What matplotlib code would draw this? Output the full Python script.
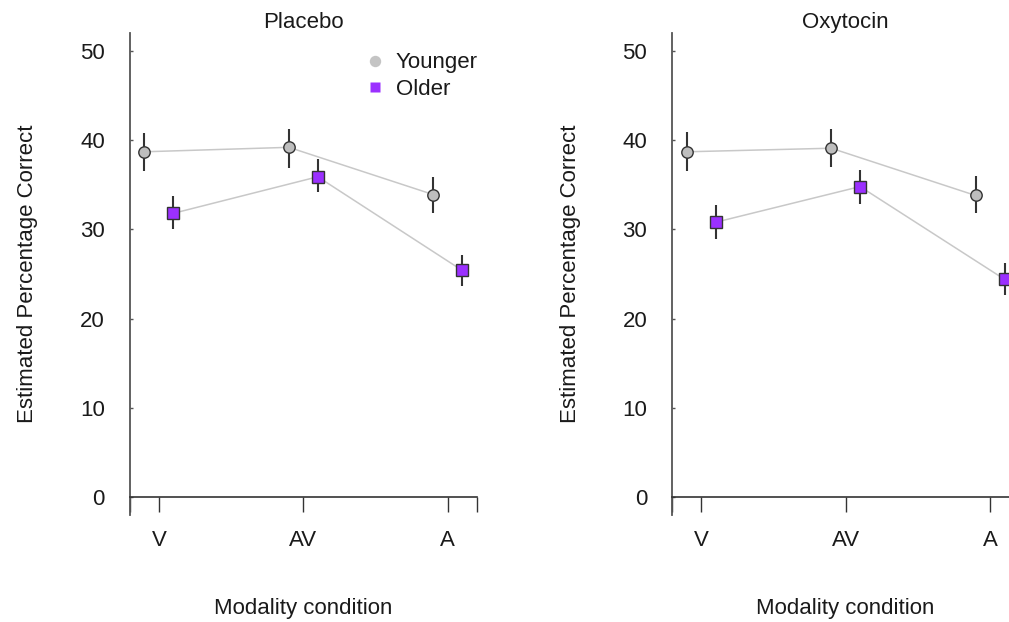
import matplotlib
matplotlib.use("Agg")
import matplotlib.pyplot as plt
from matplotlib.lines import Line2D

plt.rcParams['font.family'] = ['Liberation Sans', 'DejaVu Sans']

conditions = ['V', 'AV', 'A']
panels = ['Placebo', 'Oxytocin']

# estimated percentage correct with interval bounds
younger_mean = {'Placebo': [38.7, 39.2, 33.9], 'Oxytocin': [38.7, 39.1, 33.8]}
younger_low = {'Placebo': [36.5, 36.9, 31.8], 'Oxytocin': [36.5, 37.0, 31.8]}
younger_high = {'Placebo': [40.8, 41.2, 35.9], 'Oxytocin': [40.9, 41.3, 36.0]}

older_mean = {'Placebo': [31.8, 35.9, 25.4], 'Oxytocin': [30.8, 34.8, 24.4]}
older_low = {'Placebo': [30.0, 34.2, 23.7], 'Oxytocin': [28.9, 32.9, 22.7]}
older_high = {'Placebo': [33.7, 37.9, 27.1], 'Oxytocin': [32.7, 36.7, 26.2]}

offset = 0.1
grey = '#BEBEBE'
purple = '#9B30FF'
fs = 16
txt = '#1a1a1a'

fig = plt.figure(figsize=(10.09, 6.22), dpi=100)
lefts = [0.1288, 0.6663]

for i, name in enumerate(panels):
    ax = fig.add_axes([lefts[i], 0.1723, 0.3436, 0.7744])
    xs = list(range(len(conditions)))
    xy = [x - offset for x in xs]
    xo = [x + offset for x in xs]

    for xpos, m, lo, hi, mk, col in [
        (xy, younger_mean[name], younger_low[name], younger_high[name], 'o', grey),
        (xo, older_mean[name], older_low[name], older_high[name], 's', purple),
    ]:
        ax.plot(xpos, m, color='#C8C8C8', lw=1.1, zorder=1)
        ax.vlines(xpos, lo, hi, color='#333333', lw=1.5, zorder=2)
        ax.plot(xpos, m, linestyle='none', marker=mk, markersize=8.2,
                markerfacecolor=col, markeredgecolor='#333333',
                markeredgewidth=1.0, zorder=3)

    ax.set_xlim(-0.2, 2.2)
    ax.set_ylim(-2, 52)
    for s in ['top', 'right']:
        ax.spines[s].set_visible(False)
    ax.spines['left'].set_color('#555555')
    ax.spines['left'].set_linewidth(1.3)
    ax.spines['bottom'].set_position(('data', 0))
    ax.spines['bottom'].set_color('#333333')
    ax.spines['bottom'].set_linewidth(1.2)

    ax.set_yticks([0, 10, 20, 30, 40, 50])
    ax.tick_params(axis='y', direction='in', length=2.5, width=1.0,
                   color='#555555', pad=18, labelsize=fs, labelcolor=txt)
    ax.set_xticks([-0.2, 0, 1, 2, 2.2])
    ax.set_xticklabels(['', 'V', 'AV', 'A', ''])
    ax.tick_params(axis='x', direction='out', length=10.5, width=1.0,
                   color='#333333', pad=13, labelsize=fs, labelcolor=txt)

    ax.set_title(name, fontsize=fs, color=txt, pad=3.5)
    ax.set_ylabel('Estimated Percentage Correct', fontsize=fs, color=txt,
                  labelpad=30)
    ax.set_xlabel('Modality condition', fontsize=fs, color=txt, labelpad=34)

    if i == 0:
        handles = [
            Line2D([], [], linestyle='none', marker='o', markersize=8.2,
                   markerfacecolor='#C4C4C4', markeredgecolor='none'),
            Line2D([], [], linestyle='none', marker='s', markersize=7,
                   markerfacecolor=purple, markeredgecolor='none'),
        ]
        ax.legend(handles, ['Younger', 'Older'], loc='upper left',
                  bbox_to_anchor=(0.675, 0.96), frameon=False, fontsize=fs,
                  borderpad=0, borderaxespad=0, handlelength=1.0,
                  handletextpad=0.42, labelspacing=0.25, labelcolor=txt)

fig.savefig('out.png', dpi=100)
